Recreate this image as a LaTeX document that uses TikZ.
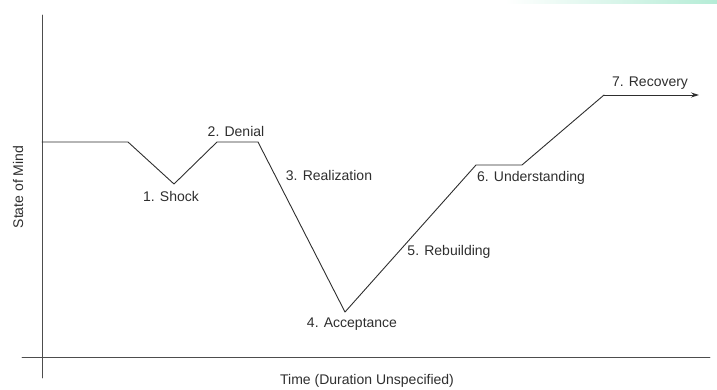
\documentclass[tikz,border=0pt]{standalone}
\usepackage{fontspec}
\setmainfont{Liberation Sans}
\usetikzlibrary{calc,arrows.meta}
\definecolor{ink}{HTML}{2E2E2E}
\definecolor{mint}{HTML}{B5ECD6}
\tikzset{
  every picture/.style={line cap=round, line join=round},
  axis/.style={draw=ink!85, line width=0.9pt},
  curve/.style={draw=ink, line width=0.9pt},
  lab/.style={text=ink, inner sep=0pt, font=\fontsize{14}{16}\selectfont}
}

\begin{document}
\begin{tikzpicture}[x=1pt,y=-1pt]
  \useasboundingbox (0,0) rectangle (717,390);

  % faded strip in the top right corner
  \shade[left color=white, right color=mint] (505,0) rectangle (717,4);

  % axes
  \coordinate (ytop) at (42,15);
  \coordinate (ybot) at (42,378);
  \coordinate (xleft) at (22,357);
  \coordinate (xright) at (710,357);
  \draw[axis] (ytop) -- (ybot);
  \draw[axis] (xleft) -- (xright);

  % stages of the curve
  \coordinate (s0) at (42,142);
  \coordinate (s1) at (128,142);
  \coordinate (shock) at (174,184);
  \coordinate (d1) at (217,142);
  \coordinate (d2) at (258,142);
  \coordinate (accept) at (345,312);
  \coordinate (u1) at (476,165);
  \coordinate (u2) at (522,165);
  \coordinate (r1) at (604,95);
  \coordinate (rend) at (699,95);

  \draw[curve] (s0) -- (s1) -- (shock) -- (d1) -- (d2) -- (accept)
    -- (u1) -- (u2) -- (r1);
  \draw[curve, -{Stealth[length=8pt, width=5pt]}] (r1) -- (rend);

  % stage labels
  \node[lab] (lshock) at (171,196) {1. Shock};
  \node[lab] (ldenial) at (236,131) {2. Denial};
  \node[lab] (lreal) at (329,175) {3. Realization};
  \node[lab] (laccept) at (352,324) {4. Acceptance};
  \node[lab] (lrebuild) at (449,252) {5. Rebuilding};
  \node[lab] (lunder) at (531,178) {6. Understanding};
  \node[lab] (lrecov) at (650,83) {7. Recovery};

  % axis titles
  \node[lab] (ltime) at (367,381) {Time (Duration Unspecified)};
  \node[lab, rotate=90] (lmind) at (18,187) {State of Mind};
\end{tikzpicture}
\end{document}
